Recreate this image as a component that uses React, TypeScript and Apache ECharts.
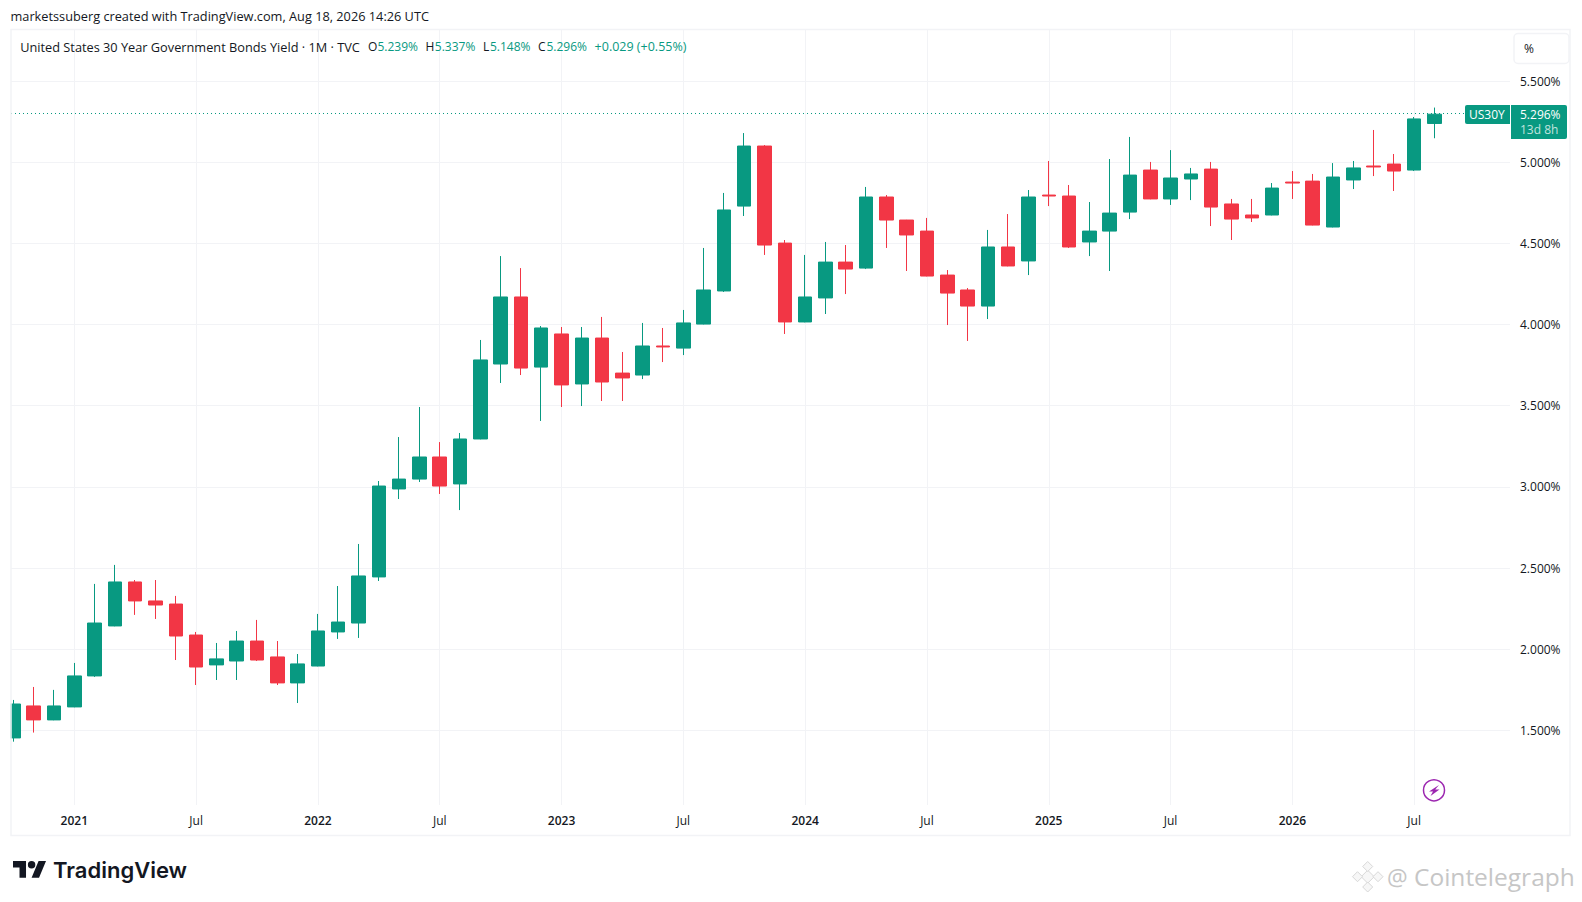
import React, { useEffect, useRef } from "react";
import * as echarts from "echarts";

const opens = [1.453,1.650,1.564,1.644,1.835,2.143,2.414,2.297,2.278,2.087,1.903,1.927,2.050,1.952,1.792,1.896,2.106,2.161,2.445,2.987,3.048,3.184,3.018,3.295,3.757,4.170,3.738,3.942,3.634,3.917,3.701,3.689,3.868,3.855,4.003,4.207,4.730,5.100,4.502,4.016,4.164,4.385,4.348,4.786,4.644,4.576,4.305,4.213,4.114,4.478,4.392,4.798,4.792,4.509,4.576,4.693,4.952,4.774,4.897,4.958,4.743,4.675,4.675,4.878,4.884,4.601,4.891,4.977,4.989,4.952,5.239];
const closes = [1.662,1.564,1.650,1.835,2.161,2.414,2.297,2.272,2.081,1.890,1.940,2.050,1.933,1.792,1.909,2.112,2.167,2.451,3.005,3.048,3.184,3.005,3.295,3.782,4.170,3.732,3.979,3.628,3.917,3.646,3.671,3.868,3.862,4.010,4.213,4.706,5.100,4.490,4.016,4.170,4.385,4.342,4.786,4.644,4.552,4.299,4.194,4.114,4.478,4.361,4.786,4.792,4.478,4.576,4.687,4.921,4.774,4.903,4.928,4.724,4.650,4.657,4.841,4.872,4.613,4.909,4.965,4.971,4.946,5.267,5.296];
const lows = [1.430,1.486,1.562,1.642,1.829,2.141,2.211,2.186,1.933,1.779,1.810,1.810,1.927,1.779,1.668,1.894,2.063,2.069,2.420,2.925,3.030,2.956,2.857,3.293,3.640,3.689,3.406,3.492,3.498,3.529,3.529,3.664,3.769,3.812,4.001,4.201,4.669,4.429,3.942,4.014,4.065,4.188,4.342,4.472,4.330,4.297,3.997,3.899,4.034,4.359,4.305,4.730,4.472,4.422,4.330,4.650,4.772,4.737,4.767,4.607,4.521,4.632,4.673,4.774,4.611,4.599,4.835,4.915,4.823,4.946,5.148];
const highs = [1.687,1.767,1.749,1.915,2.402,2.519,2.426,2.426,2.328,2.106,2.038,2.112,2.180,2.050,1.970,2.217,2.389,2.648,3.036,3.307,3.492,3.276,3.332,3.905,4.422,4.348,3.991,3.985,3.985,4.047,3.831,4.010,3.979,4.090,4.472,4.811,5.180,5.106,4.521,4.429,4.509,4.490,4.848,4.798,4.645,4.657,4.336,4.225,4.583,4.681,4.829,5.008,4.860,4.755,5.020,5.156,5.002,5.075,4.965,5.002,4.774,4.774,4.872,4.946,4.928,4.995,5.008,5.199,5.051,5.279,5.337];

const xTickIndex = [3,9,15,21,27,33,39,45,51,57,63,69];
const xTickLabels = ["2021","Jul","2022","Jul","2023","Jul","2024","Jul","2025","Jul","2026","Jul"];
const yTicks = [1.5,2,2.5,3,3.5,4,4.5,5,5.5];
const lastPrice = 5.296;

const UP = "#089981";
const DOWN = "#F23645";
const GRID = "#f2f3f6";
const TEXT = "#131722";
const FONT = "'Open Sans', sans-serif";

const LOGO = "M14 22H7V11H0V4h14v18zM28 22h-8l7.5-18h8L28 22zM24 8a4 4 0 1 1-8 0a4 4 0 1 1 8 0z";
echarts.graphic.registerShape("tvlogo", echarts.graphic.extendPath(LOGO, {}) as any);

function txt(x: number, y: number, text: string, fill: string, fontSize = 12, fontWeight: any = 400, extra: any = {}) {
  return {
    type: "text", x, y, z: 50,
    style: { text, fill, fontSize, fontWeight, fontFamily: FONT, verticalAlign: "middle", ...extra },
  };
}
function diamond(cx: number, cy: number, r: number) {
  return {
    type: "polygon", z: 40,
    shape: { points: [[cx, cy - r], [cx + r, cy], [cx, cy + r], [cx - r, cy]] },
    style: { fill: "#f7f7f7", stroke: "#d8d8d8", lineWidth: 1 },
  };
}

export default function App() {
  const ref = useRef<HTMLDivElement>(null);
  useEffect(() => {
    document.body.style.margin = "0";
    const chart = echarts.init(ref.current!, undefined, { renderer: "svg" });
    const data = opens.map((o, i) => [i, o, closes[i], lows[i], highs[i]]);
    chart.setOption({
      animation: false,
      backgroundColor: "#ffffff",
      grid: { left: 11, right: 72, top: 30, bottom: 97, containLabel: false },
      xAxis: {
        type: "value", min: -0.118, max: 73.72, scale: true,
        axisLine: { show: false },
        axisTick: { show: false, customValues: xTickIndex },
        splitLine: { show: true, lineStyle: { color: GRID, width: 1 } },
        axisLabel: {
          customValues: xTickIndex, margin: 9, fontFamily: FONT, fontSize: 12, color: TEXT,
          formatter: (v: number) => {
            const s = xTickLabels[xTickIndex.indexOf(v)] ?? "";
            return s === "Jul" ? s : `{b|${s}}`;
          },
          rich: { b: { fontFamily: FONT, fontSize: 12, fontWeight: 600, color: TEXT } },
        },
      },
      yAxis: {
        type: "value", position: "right", min: 1.0397, max: 5.815, scale: true,
        axisLine: { show: false },
        axisTick: { show: false, customValues: yTicks },
        splitLine: { show: true, lineStyle: { color: GRID, width: 1 } },
        axisLabel: {
          customValues: yTicks, margin: 10, fontFamily: FONT, fontSize: 12, color: TEXT,
          formatter: (v: number) => v.toFixed(3) + "%",
        },
      },
      series: [{
        type: "candlestick",
        data,
        encode: { x: 0, y: [1, 2, 3, 4] },
        barWidth: 14,
        itemStyle: { color: UP, color0: DOWN, borderColor: UP, borderColor0: DOWN, borderColorDoji: DOWN, borderWidth: 1 },
        markLine: {
          silent: true, symbol: "none", label: { show: false },
          lineStyle: { color: UP, type: [1, 3], width: 1 },
          data: [{ yAxis: lastPrice }],
        },
      }],
      graphic: [
        { type: "rect", z: 25, shape: { x: 0, y: 600, width: 10.5, height: 200 }, style: { fill: "#ffffff" } },
        { type: "rect", z: 30, shape: { x: 11, y: 29.5, width: 1559, height: 806 }, style: { fill: "none", stroke: GRID, lineWidth: 1.5 } },
        txt(10.5, 16, "marketssuberg created with TradingView.com, Aug 18, 2026 14:26 UTC", TEXT, 12.75),
        txt(20.2, 46.7, "United States 30 Year Government Bonds Yield · 1M · TVC", TEXT, 12.75),
        txt(368, 46.7, "O", TEXT, 12), txt(377.4, 46.7, "5.239%", UP, 12),
        txt(425.6, 46.7, "H", TEXT, 12), txt(434.8, 46.7, "5.337%", UP, 12),
        txt(483, 46.7, "L", TEXT, 12), txt(489.9, 46.7, "5.148%", UP, 12),
        txt(538, 46.7, "C", TEXT, 12), txt(546.4, 46.7, "5.296%", UP, 12),
        txt(594.6, 46.7, "+0.029 (+0.55%)", UP, 12.5),
        { type: "rect", z: 30, shape: { x: 1514, y: 33.5, width: 55, height: 30, r: 4 }, style: { fill: "#fff", stroke: GRID, lineWidth: 1.5 } },
        txt(1524, 48.6, "%", TEXT, 12),
        { type: "rect", z: 45, shape: { x: 1465, y: 105, width: 45, height: 19, r: [2, 0, 0, 2] }, style: { fill: UP } },
        txt(1469, 114.5, "US30Y", "#ffffff", 12),
        { type: "rect", z: 45, shape: { x: 1511, y: 105, width: 56, height: 34, r: [0, 2, 2, 0] }, style: { fill: UP } },
        txt(1520, 114.5, "5.296%", "#ffffff", 12),
        txt(1520, 129.5, "13d 8h", "#ffffff", 12, 400, { opacity: 0.75 }),
        { type: "circle", z: 40, shape: { cx: 1434, cy: 790.3, r: 10.5 }, style: { fill: "#fff", stroke: "#9c27b0", lineWidth: 1.5 } },
        { type: "polygon", z: 41, shape: { points: [[1439, 785], [1429, 791.6], [1433, 791.6], [1430.5, 796], [1439.5, 789.4], [1435.2, 789.4]] }, style: { fill: "#9c27b0" } },
        { type: "tvlogo", z: 40, x: 13, y: 857.3, scaleX: 0.93, scaleY: 0.93, style: { fill: TEXT } },
        { type: "text", x: 53, y: 870, z: 40, style: { text: "TradingView", fill: TEXT, fontSize: 22, fontWeight: 600, fontFamily: "Inter, sans-serif", verticalAlign: "middle" } },
        diamond(1367.7, 876.7, 6.5), diamond(1367.7, 866.5, 5), diamond(1367.7, 887, 5), diamond(1357.5, 876.7, 5), diamond(1378, 876.7, 5),
        { type: "text", x: 1387, y: 876.5, z: 40, style: { text: "@", fill: "#c6c6c6", fontSize: 23, fontFamily: FONT, verticalAlign: "middle" } },
        { type: "text", x: 1414, y: 876.5, z: 40, style: { text: "Cointelegraph", fill: "#c6c6c6", fontSize: 24.5, fontFamily: FONT, verticalAlign: "middle" } },
      ],
    });
    return () => chart.dispose();
  }, []);
  return <div ref={ref} style={{ position: "fixed", left: 0, top: 0, width: 1582, height: 902 }} />;
}
